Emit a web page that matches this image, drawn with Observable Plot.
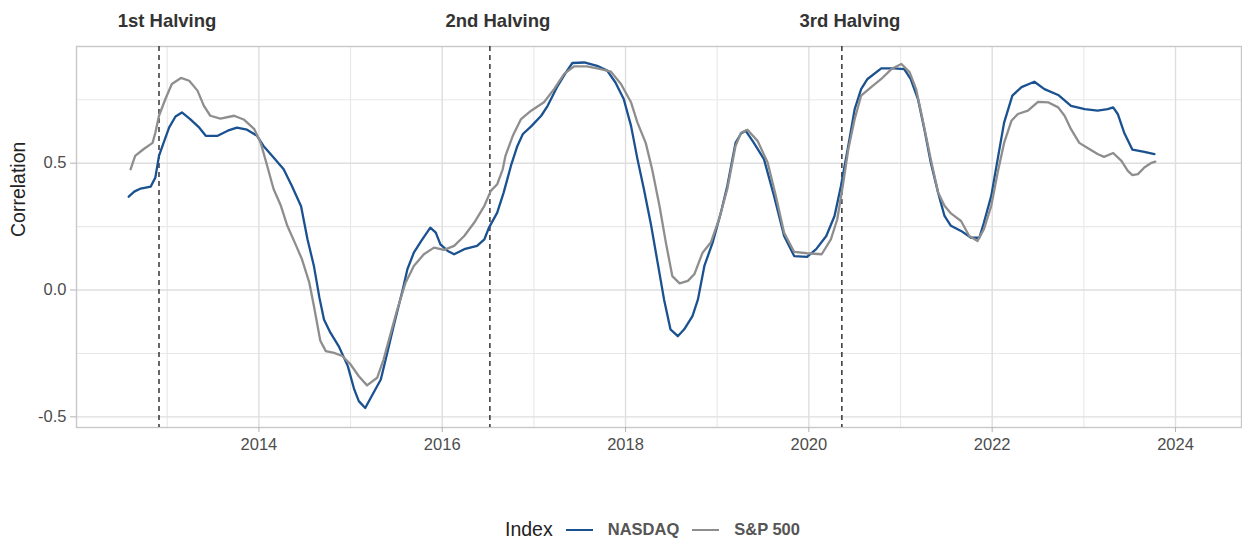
<!DOCTYPE html>
<html>
<head>
<meta charset="utf-8">
<script src="https://cdn.jsdelivr.net/npm/d3@7"></script>
<script src="https://cdn.jsdelivr.net/npm/@observablehq/plot@0.6"></script>
<style>
  html, body { margin: 0; padding: 0; background: #fff; }
  body { width: 1242px; height: 544px; overflow: hidden; font-family: "Liberation Sans", Arial, sans-serif; }
  #legend { position: relative; height: 74px; width: 1242px; }
  #legend .row { position: absolute; left: 0; right: 0; top: 48px; display: flex; justify-content: center; align-items: center; padding-left: 76px; }
  #legend .title { font-size: 19.5px; color: #222; margin-right: 13px; }
  #legend .key { width: 27px; height: 2px; margin-right: 15px; }
  #legend .lab { font-size: 16.5px; color: #555; margin-right: 13px; font-weight: bold; }
</style>
</head>
<body>
<div id="chart"></div>
<div id="legend"></div>
<script>
// ---- data (decimal years, correlation values) ----
const nasdaqT = [2012.58,2012.64,2012.71,2012.82,2012.87,2012.91,2012.96,2013.02,2013.09,2013.16,2013.25,2013.35,2013.42,2013.55,2013.66,2013.76,2013.87,2013.98,2014.05,2014.16,2014.27,2014.36,2014.46,2014.53,2014.60,2014.66,2014.71,2014.78,2014.87,2014.97,2015.04,2015.09,2015.16,2015.24,2015.33,2015.40,2015.47,2015.57,2015.62,2015.69,2015.77,2015.87,2015.93,2015.98,2016.06,2016.13,2016.24,2016.38,2016.46,2016.51,2016.60,2016.67,2016.75,2016.82,2016.88,2016.97,2017.08,2017.15,2017.26,2017.35,2017.42,2017.55,2017.69,2017.80,2017.89,2017.98,2018.06,2018.13,2018.20,2018.28,2018.35,2018.42,2018.49,2018.57,2018.64,2018.73,2018.79,2018.86,2018.95,2019.04,2019.11,2019.20,2019.26,2019.31,2019.40,2019.51,2019.62,2019.73,2019.84,2019.98,2020.08,2020.19,2020.28,2020.35,2020.43,2020.50,2020.57,2020.64,2020.79,2020.93,2021.04,2021.11,2021.19,2021.26,2021.33,2021.41,2021.48,2021.55,2021.66,2021.77,2021.86,2021.91,2021.99,2022.06,2022.13,2022.22,2022.32,2022.46,2022.57,2022.72,2022.86,2023.01,2023.15,2023.26,2023.32,2023.37,2023.44,2023.53,2023.66,2023.77];
const nasdaqV = [0.368,0.388,0.40,0.408,0.443,0.529,0.58,0.64,0.684,0.70,0.674,0.64,0.608,0.608,0.628,0.64,0.632,0.608,0.568,0.522,0.476,0.41,0.33,0.20,0.095,-0.03,-0.116,-0.168,-0.221,-0.30,-0.392,-0.438,-0.465,-0.412,-0.353,-0.248,-0.142,0.003,0.082,0.147,0.193,0.246,0.226,0.18,0.154,0.141,0.161,0.174,0.20,0.246,0.305,0.384,0.49,0.568,0.615,0.645,0.687,0.726,0.805,0.858,0.895,0.897,0.884,0.865,0.818,0.753,0.647,0.516,0.398,0.253,0.108,-0.037,-0.155,-0.182,-0.155,-0.103,-0.037,0.095,0.187,0.305,0.41,0.58,0.617,0.628,0.58,0.516,0.371,0.213,0.134,0.131,0.161,0.213,0.292,0.41,0.568,0.713,0.792,0.832,0.874,0.874,0.871,0.832,0.753,0.634,0.503,0.384,0.292,0.253,0.233,0.206,0.206,0.266,0.371,0.516,0.66,0.766,0.80,0.821,0.792,0.769,0.726,0.713,0.707,0.713,0.72,0.694,0.62,0.553,0.545,0.536];
const spT = [2012.60,2012.65,2012.74,2012.84,2012.87,2012.91,2012.98,2013.05,2013.15,2013.24,2013.33,2013.40,2013.47,2013.58,2013.73,2013.84,2013.95,2014.02,2014.09,2014.16,2014.24,2014.31,2014.40,2014.47,2014.55,2014.60,2014.67,2014.73,2014.82,2014.91,2015.00,2015.09,2015.18,2015.29,2015.36,2015.44,2015.51,2015.60,2015.69,2015.80,2015.91,2016.02,2016.13,2016.24,2016.35,2016.46,2016.53,2016.60,2016.66,2016.69,2016.77,2016.86,2016.97,2017.11,2017.22,2017.33,2017.44,2017.58,2017.73,2017.84,2017.95,2018.06,2018.13,2018.22,2018.29,2018.37,2018.44,2018.51,2018.59,2018.68,2018.75,2018.84,2018.93,2019.02,2019.11,2019.20,2019.26,2019.33,2019.44,2019.55,2019.64,2019.73,2019.84,2019.98,2020.14,2020.24,2020.31,2020.37,2020.43,2020.50,2020.57,2020.68,2020.79,2020.90,2021.01,2021.10,2021.17,2021.24,2021.33,2021.41,2021.48,2021.55,2021.66,2021.75,2021.84,2021.91,2021.99,2022.06,2022.13,2022.21,2022.28,2022.39,2022.50,2022.61,2022.72,2022.79,2022.86,2022.95,2023.05,2023.15,2023.22,2023.32,2023.41,2023.48,2023.53,2023.59,2023.66,2023.73,2023.78];
const spV = [0.476,0.529,0.555,0.58,0.62,0.687,0.753,0.812,0.836,0.825,0.786,0.726,0.687,0.676,0.687,0.671,0.634,0.58,0.49,0.398,0.332,0.253,0.18,0.121,0.029,-0.063,-0.2,-0.241,-0.248,-0.26,-0.293,-0.34,-0.376,-0.346,-0.274,-0.168,-0.076,0.029,0.095,0.141,0.167,0.158,0.174,0.213,0.266,0.332,0.391,0.417,0.476,0.529,0.608,0.674,0.707,0.74,0.792,0.852,0.882,0.882,0.871,0.861,0.812,0.74,0.66,0.58,0.476,0.332,0.187,0.055,0.026,0.036,0.062,0.147,0.187,0.279,0.398,0.568,0.62,0.632,0.588,0.503,0.371,0.226,0.15,0.145,0.141,0.20,0.279,0.41,0.555,0.674,0.766,0.80,0.832,0.871,0.891,0.858,0.792,0.674,0.516,0.384,0.332,0.302,0.272,0.213,0.193,0.24,0.332,0.463,0.58,0.667,0.694,0.707,0.742,0.74,0.72,0.687,0.634,0.58,0.558,0.536,0.525,0.54,0.509,0.47,0.453,0.457,0.483,0.50,0.506];
const seriesNames = ["NASDAQ", "S&P 500"];
const seriesColors = ["#1a5190", "#8e8e8e"];
const halvingT = [2012.91, 2016.52, 2020.36];
const halvingLabels = ["1st Halving", "2nd Halving", "3rd Halving"];
const xTicks = [2014, 2016, 2018, 2020, 2022, 2024];
const xMinor = [2013, 2015, 2017, 2019, 2021, 2023];
const yTicks = [-0.5, 0, 0.5];
const yMinor = [-0.25, 0.25, 0.75];

// ---- build tables ----
const rows = [
  ...nasdaqT.map((t, i) => ({t, v: nasdaqV[i], s: seriesNames[0]})),
  ...spT.map((t, i) => ({t, v: spV[i], s: seriesNames[1]}))
];
const halvings = halvingT.map((t, i) => ({t, label: halvingLabels[i]}));

const chart = Plot.plot({
  width: 1242,
  height: 470,
  marginTop: 46,
  marginLeft: 76,
  marginRight: 1,
  marginBottom: 43,
  style: {fontFamily: '"Liberation Sans", Arial, sans-serif', background: "#fff"},
  x: {domain: [2012.01, 2024.72], ticks: xTicks, tickFormat: d => String(d), tickSize: 5, tickPadding: 6, label: null},
  y: {domain: [-0.542, 0.960], ticks: yTicks, tickFormat: d => d.toFixed(1), tickSize: 6, tickPadding: 4, label: null},
  color: {domain: seriesNames, range: seriesColors},
  marks: [
    Plot.gridX(xMinor, {stroke: "#e8e8e8", strokeOpacity: 1, strokeWidth: 1.1}),
    Plot.gridY(yMinor, {stroke: "#e8e8e8", strokeOpacity: 1, strokeWidth: 1.1}),
    Plot.gridX(xTicks, {stroke: "#dedede", strokeOpacity: 1, strokeWidth: 1.4}),
    Plot.gridY(yTicks, {stroke: "#dedede", strokeOpacity: 1, strokeWidth: 1.4}),
    Plot.frame({stroke: "#c8c8c8", strokeWidth: 1.4}),
    Plot.axisX({ticks: xTicks, tickFormat: d => String(d), stroke: "#b3b3b3", fill: "#4d4d4d", fontSize: 16.5, tickSize: 5, tickPadding: 6, label: null}),
    Plot.axisY({ticks: yTicks, tickFormat: d => d.toFixed(1), stroke: "#b3b3b3", fill: "#4d4d4d", fontSize: 16.5, tickSize: 6, tickPadding: 4, label: null}),
    Plot.ruleX(halvings, {x: "t", stroke: "#333", strokeWidth: 1.5, strokeDasharray: "5,4"}),
    Plot.line(rows, {x: "t", y: "v", z: "s", stroke: "s", strokeWidth: 2.3, curve: "linear"}),
    Plot.text(halvings, {x: "t", text: "label", frameAnchor: "top", dy: -33, dx: 8, fontSize: 18.5, fontWeight: "bold", fill: "#333"}),
    Plot.text(["Correlation"], {text: d => d, frameAnchor: "left", dx: -58, rotate: -90, fontSize: 19.5, fill: "#222"})
  ]
});
document.getElementById("chart").appendChild(chart);

// ---- legend ----
const legend = d3.select("#legend").append("div").attr("class", "row");
legend.append("span").attr("class", "title").text("Index");
seriesNames.forEach((name, i) => {
  legend.append("span").attr("class", "key").style("background", seriesColors[i]);
  legend.append("span").attr("class", "lab").text(name);
});
</script>
</body>
</html>
